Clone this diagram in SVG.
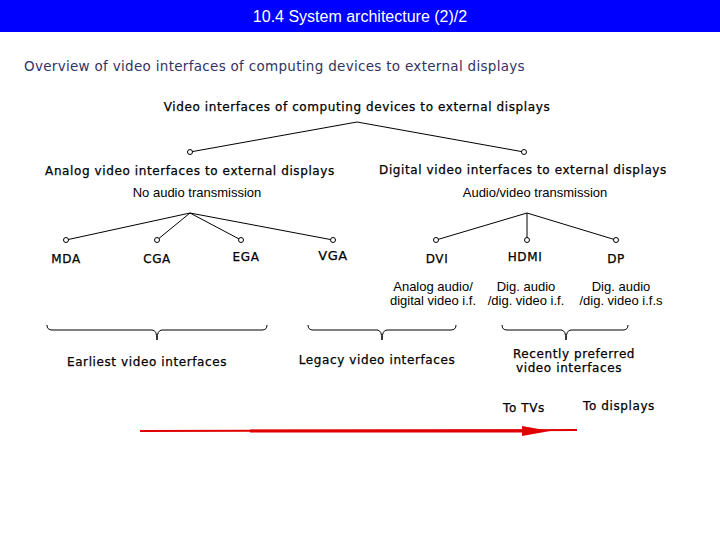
<svg xmlns="http://www.w3.org/2000/svg" width="720" height="540" viewBox="0 0 720 540">
<style>
text{font-family:"DejaVu Sans","Liberation Sans",sans-serif;font-size:12px;fill:#000;text-anchor:middle}
.b{font-size:12px;letter-spacing:0.6px;stroke:#000;stroke-width:0.25}
.n{font-family:"Liberation Sans",sans-serif;font-size:13px}
.l{stroke:#000;stroke-width:1;fill:none}
.c{fill:#fff;stroke:#000;stroke-width:1}
</style>
<rect width="720" height="540" fill="#fff"/>
<rect x="0" y="0" width="720" height="32" fill="#0000ff"/>
<text x="360" y="22" style="fill:#fff;font-size:16px;font-family:'Liberation Sans',sans-serif">10.4 System architecture (2)/2</text>
<text x="24" y="71" style="text-anchor:start;fill:#333366;font-size:13.5px;letter-spacing:0.3px">Overview of video interfaces of computing devices to external displays</text>
<g id="connectors">
<path class="l" d="M190 152L357 122L524 152M66 240L190 213L157 240M190 213L241 240M190 213L333 240M436 240L527 213L616 240M527 213V240"/>
<g class="l">
<path d="M47 325q0 5 5 5h100q5 0 5 10q0-10 5-10h100q5 0 5-5"/>
<path d="M308 325q0 5 5 5h64q5 0 5 10q0-10 5-10h64q5 0 5-5"/>
<path d="M502 325q0 5 5 5h54q5 0 5 10q0-10 5-10h52q5 0 5-5"/>
</g>
<circle class="c" cx="190" cy="152" r="2.5"/><circle class="c" cx="524" cy="152" r="2.5"/>
<circle class="c" cx="66" cy="240" r="2.5"/><circle class="c" cx="157" cy="240" r="2.5"/><circle class="c" cx="241" cy="240" r="2.5"/><circle class="c" cx="333" cy="240" r="2.5"/>
<circle class="c" cx="436" cy="240" r="2.5"/><circle class="c" cx="527" cy="240" r="2.5"/><circle class="c" cx="616" cy="240" r="2.5"/>
</g>
<g id="root"><text class="b" x="357" y="111">Video interfaces of computing devices to external displays</text></g>
<g id="analog"><text class="b" x="190" y="175">Analog video interfaces to external displays</text><text class="n" x="197" y="197">No audio transmission</text></g>
<g id="digital"><text class="b" x="523" y="174">Digital video interfaces to external displays</text><text class="n" x="535" y="197">Audio/video transmission</text></g>
<g id="mda"><text class="b" x="66" y="263">MDA</text></g>
<g id="cga"><text class="b" x="157" y="263">CGA</text></g>
<g id="ega"><text class="b" x="246" y="261">EGA</text></g>
<g id="vga"><text class="b" x="333" y="260" style="font-size:13px">VGA</text></g>
<g id="dvi"><text class="b" x="437" y="263">DVI</text><text class="n" x="433" y="291">Analog audio/</text><text class="n" x="433" y="305">digital video i.f.</text></g>
<g id="hdmi"><text class="b" x="525" y="261">HDMI</text><text class="n" x="526" y="291">Dig. audio</text><text class="n" x="526" y="305">/dig. video i.f.</text></g>
<g id="dp"><text class="b" x="616" y="263">DP</text><text class="n" x="621" y="291">Dig. audio</text><text class="n" x="621" y="305">/dig. video i.f.s</text></g>
<g id="earliest"><text class="b" x="147" y="366">Earliest video interfaces</text></g>
<g id="legacy"><text class="b" x="377" y="364">Legacy video interfaces</text></g>
<g id="recent"><text class="b" x="574" y="358">Recently preferred</text><text class="b" x="569" y="372">video interfaces</text></g>
<g id="tvs"><text class="b" x="524" y="412">To TVs</text></g>
<g id="displays"><text class="b" x="619" y="410">To displays</text></g>
<g id="arrow">
<line x1="140" y1="431" x2="577" y2="430" stroke="#e00000" stroke-width="2"/>
<line x1="250" y1="431" x2="540" y2="431" stroke="#e00000" stroke-width="3"/>
<polygon points="522,426 550,431 522,436" fill="#e00000"/>
</g>
</svg>
